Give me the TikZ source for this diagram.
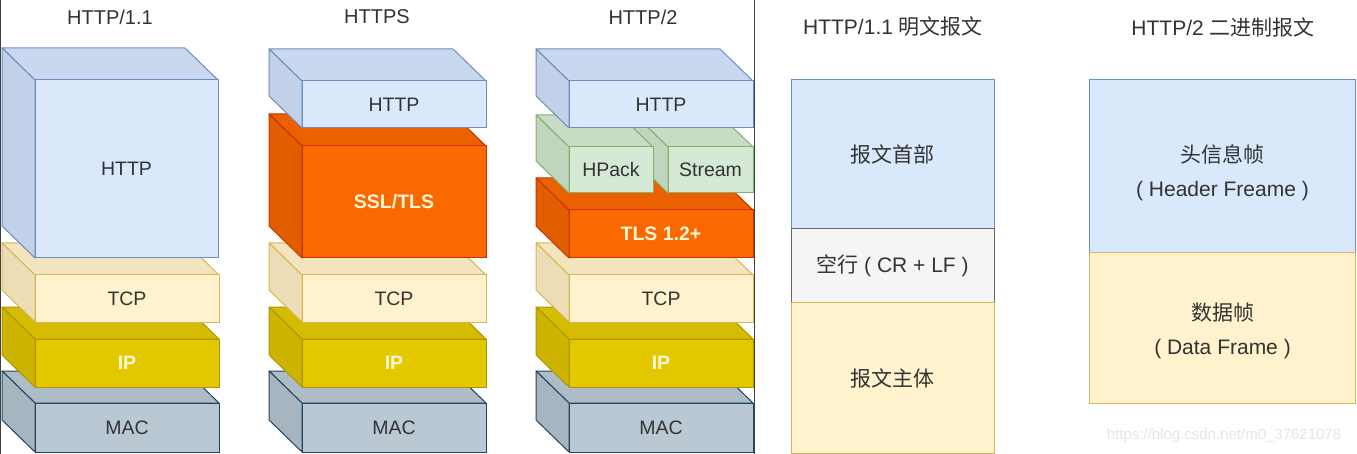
\documentclass[tikz,border=0pt]{standalone}
\usepackage{fontspec}
\setmainfont{Liberation Sans}
\newfontfamily\cjk{Noto Sans CJK SC}
\usepackage{tikz}
\usetikzlibrary{positioning}
\usepackage{xcolor}

\definecolor{httpfront}{HTML}{DAE8FC}
\definecolor{httptop}{HTML}{C9D8EF}
\definecolor{httpside}{HTML}{C2D1E9}
\definecolor{httpline}{HTML}{6C8EBF}
\definecolor{tcpfront}{HTML}{FFF2CC}
\definecolor{tcptop}{HTML}{F3E4BD}
\definecolor{tcpside}{HTML}{ECDDB6}
\definecolor{tcpline}{HTML}{D6B656}
\definecolor{ipfront}{HTML}{E3C800}
\definecolor{iptop}{HTML}{D6BC00}
\definecolor{ipside}{HTML}{CDB400}
\definecolor{ipline}{HTML}{B09500}
\definecolor{macfront}{HTML}{BAC8D3}
\definecolor{mactop}{HTML}{AEBCC8}
\definecolor{macside}{HTML}{A7B5C1}
\definecolor{macline}{HTML}{23445D}
\definecolor{tlsfront}{HTML}{FA6800}
\definecolor{tlstop}{HTML}{EB6000}
\definecolor{tlsside}{HTML}{E25C00}
\definecolor{tlsline}{HTML}{C73500}
\definecolor{packfront}{HTML}{D5E8D4}
\definecolor{packtop}{HTML}{C6DCC5}
\definecolor{packside}{HTML}{BFD5BE}
\definecolor{packline}{HTML}{82B366}
\definecolor{blankfront}{HTML}{F5F5F5}
\definecolor{blankline}{HTML}{666666}
\definecolor{textgray}{HTML}{333333}
\definecolor{lighttext}{HTML}{FFF6D5}

% one layer of a stack: [node options]{name}{x0}{y0}{x1}{y1}{colour}{label}
\newcommand{\layer}[8][]{%
  \filldraw[draw=#7line, fill=#7top, line width=1pt, line join=round] (#3-33,#4-32) -- (#5-33,#4-32) -- (#5,#4) -- (#3,#4) -- cycle;
  \filldraw[draw=#7line, fill=#7side, line width=1pt, line join=round] (#3-33,#4-32) -- (#3,#4) -- (#3,#6) -- (#3-33,#6-32) -- cycle;
  \node[layerbox, draw=#7line, fill=#7front, minimum width={(#5-#3)*1pt}, minimum height={(#6-#4)*1pt}, #1] (#2) at ({(#3+#5)/2},{(#4+#6)/2}) {#8};
}

\begin{document}
\begin{tikzpicture}[x=1pt, y=-1pt]
\tikzstyle{layerbox} = [rectangle, inner sep=0, outer sep=0, line width=1pt, text=textgray, font=\fontsize{19.5}{23}\selectfont]
\tikzstyle{lightlabel} = [text=lighttext, font=\fontsize{19.5}{23}\selectfont\bfseries]
\tikzstyle{title} = [text=textgray, font=\fontsize{20}{24}\selectfont]
\tikzstyle{msgbox} = [rectangle, inner sep=0, outer sep=0, line width=1pt, text=textgray, align=center, font=\fontsize{21}{34}\selectfont]
\tikzstyle{divider} = [line width=1.2pt, draw=black!75]

\useasboundingbox (0,0) rectangle (1357,454);

% titles of the stacks
\node [title] (t11) at (110,17) {HTTP/1.1};
\node [title] (ts) at (377,17) {HTTPS};
\node [title] (t2) at (643,17) {HTTP/2};

% lower layers, same in every stack
\foreach \x/\s in {35/a,302/b,569/c} {
  \layer{mac\s}{\x}{403}{\x+184}{452}{mac}{MAC}
  \layer[lightlabel]{ip\s}{\x}{339}{\x+184}{387}{ip}{IP}
  \layer{tcp\s}{\x}{275}{\x+184}{322}{tcp}{TCP}
}

% HTTP/1.1
\layer{httpa}{35}{80}{218}{258}{http}{HTTP}

% HTTPS
\layer[lightlabel]{tlsb}{302}{146}{486}{258}{tls}{SSL/TLS}
\layer{httpb}{302}{81}{486}{128}{http}{HTTP}

% HTTP/2
\layer[lightlabel]{tlsc}{569}{210}{753}{258}{tls}{TLS 1.2+}
\layer{streamc}{668}{147}{753}{193}{pack}{Stream}
\layer{hpackc}{569}{147}{653}{193}{pack}{HPack}
\layer{httpc}{569}{81}{753}{128}{http}{HTTP}

\draw [divider] (0.6,0) -- (0.6,454);
\draw [divider] (754.5,0) -- (754.5,454);

% message formats
\node [title, font=\fontsize{21}{25}\selectfont] (plain) at (893,27) {HTTP/1.1 {\cjk 明文报文}};
\node [msgbox, fill=httpfront, draw=httpline, minimum width=203pt, minimum height=149pt, anchor=north west] (head) at (791,80) {{\cjk 报文首部}};
\node [msgbox, fill=blankfront, draw=blankline, minimum width=203pt, minimum height=74pt, below=0pt of head] (blank) {{\cjk 空行} ( CR + LF )};
\node [msgbox, fill=tcpfront, draw=tcpline, minimum width=203pt, minimum height=150pt, below=0pt of blank] (body) {{\cjk 报文主体}};

\node [title, font=\fontsize{21}{25}\selectfont] (binary) at (1223,27) {HTTP/2 {\cjk 二进制报文}};
\node [msgbox, fill=httpfront, draw=httpline, minimum width=266pt, minimum height=173pt, anchor=north west] (hdrframe) at (1089.5,80) {};
\node [msgbox, fill=tcpfront, draw=tcpline, minimum width=266pt, minimum height=150pt, below=0pt of hdrframe] (dataframe) {};
\node [msgbox, yshift=-6pt] (hdrtext) at (hdrframe) {{\cjk 头信息帧}\\( Header Freame )};
\node [msgbox, yshift=-3pt] (datatext) at (dataframe) {{\cjk 数据帧}\\( Data Frame )};

\node [text=black!10, font=\fontsize{15}{18}\selectfont] (mark) at (1224,436) {https://blog.csdn.net/m0\_37621078};
\end{tikzpicture}
\end{document}
